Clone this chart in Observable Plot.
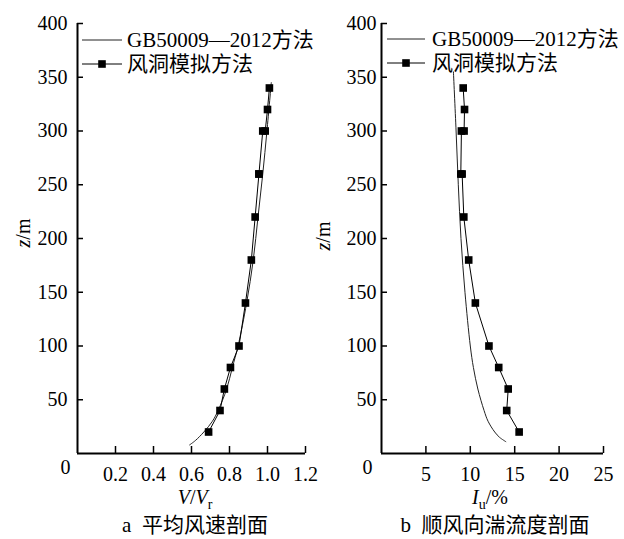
<!DOCTYPE html>
<html>
<head>
<meta charset="utf-8">
<script src="https://cdn.jsdelivr.net/npm/d3@7"></script>
<script src="https://cdn.jsdelivr.net/npm/@observablehq/plot@0.6"></script>
<style>
  html, body { margin: 0; padding: 0; background: #fff; }
  #wrap { position: relative; width: 624px; height: 539px; background: #fff; overflow: hidden;
    font-family: "Liberation Serif", "Noto Sans CJK SC", serif; color: #000; }
  .abs { position: absolute; white-space: nowrap; }
  .c { transform: translate(-50%, -50%); }
  .t { line-height: 16px; }
  .leg { position: absolute; height: 24px; line-height: 24px; font-size: 21px; white-space: nowrap; }
  .sub { font-size: 14px; position: relative; top: 5px; font-style: normal; }
</style>
</head>
<body>
<div id="wrap">
  <div id="pa" class="abs" style="left:0;top:0"></div>
  <div id="pb" class="abs" style="left:330px;top:0"></div>
</div>
<script>
// ---- data ----
const zTicks = [50, 100, 150, 200, 250, 300, 350, 400];
const vTicks = [0.2, 0.4, 0.6, 0.8, 1.0, 1.2];
const iTicks = [5, 10, 15, 20, 25];
const originLabel = ["0"];

// wind tunnel heights (m)
const wtZ = [20, 40, 60, 80, 100, 140, 180, 220, 260, 260, 300, 300, 320, 340];
// panel a: mean wind speed ratio V/Vr (wind tunnel)
const wtV = [0.69, 0.75, 0.773, 0.805, 0.85, 0.884, 0.915, 0.935, 0.955, 0.955, 0.975, 0.988, 1.0, 1.01];
// panel b: turbulence intensity Iu % (wind tunnel)
const wtI = [15.5, 14.1, 14.27, 13.2, 12.1, 10.57, 9.82, 9.27, 9.08, 8.93, 9.0, 9.3, 9.35, 9.2];

// GB50009-2012 curve, panel a
const gbZa = [8, 12, 20, 30, 40, 60, 80, 100, 140, 180, 220, 260, 300, 345];
const gbV  = [0.59, 0.62, 0.665, 0.71, 0.74, 0.785, 0.815, 0.845, 0.89, 0.925, 0.95, 0.975, 0.997, 1.02];
// GB50009-2012 curve, panel b
const gbZb = [11, 15, 20, 30, 40, 60, 80, 100, 150, 200, 250, 300, 355];
const gbI  = [14.0, 13.3, 12.75, 12.0, 11.55, 10.85, 10.35, 10.0, 9.4, 8.95, 8.65, 8.4, 8.1];

const legendLabels = ["GB50009\u20142012方法", "风洞模拟方法"];
const titlesA = { y: "z/m", caption: "a\u00a0\u00a0平均风速剖面" };
const titlesB = { y: "z/m", caption: "b\u00a0\u00a0顺风向湍流度剖面" };

const wtA = wtZ.map((z, i) => ({ z, v: wtV[i] }));
const wtB = wtZ.map((z, i) => ({ z, v: wtI[i] }));
const gbA = gbZa.map((z, i) => ({ z, v: gbV[i] }));
const gbB = gbZb.map((z, i) => ({ z, v: gbI[i] }));

const FONT = '"Liberation Serif", "Noto Sans CJK SC", serif';

function panel({ width, marginLeft, marginRight, xDomain, xTicks, xFormat, yPad, gb, wt, originDx }) {
  return Plot.plot({
    width, height: 480,
    marginLeft, marginRight, marginTop: 23, marginBottom: 27,
    x: { domain: xDomain },
    y: { domain: [0, 400] },
    style: { fontFamily: FONT, fontSize: "20px", background: "transparent", overflow: "visible", color: "#000" },
    marks: [
      Plot.axisY({ ticks: zTicks, tickSize: 0, tickPadding: yPad, label: null, fontSize: 20 }),
      Plot.axisY({ ticks: zTicks, tickSize: 6, dx: 6, fill: "none", strokeWidth: 1.5, label: null }),
      Plot.axisX({ ticks: xTicks, tickSize: 0, tickPadding: 13, label: null, fontSize: 20, tickFormat: xFormat }),
      Plot.axisX({ ticks: xTicks, tickSize: 7, dy: -7, fill: "none", strokeWidth: 1.5, label: null }),
      Plot.text(originLabel, { frameAnchor: "bottom-left", dx: originDx, dy: 20, fontSize: 20 }),
      Plot.ruleX([xDomain[0]], { strokeWidth: 2 }),
      Plot.ruleY([0], { strokeWidth: 2 }),
      Plot.line(gb, { x: "v", y: "z", curve: "catmull-rom", stroke: "#222", strokeWidth: 1 }),
      Plot.line(wt, { x: "v", y: "z", stroke: "#000", strokeWidth: 1 }),
      Plot.dot(wt, { x: "v", y: "z", symbol: "square", fill: "#000", stroke: "none", r: 4.3 })
    ]
  });
}

document.getElementById("pa").append(panel({
  width: 330, marginLeft: 77, marginRight: 25, xDomain: [0, 1.2], xTicks: vTicks,
  xFormat: d => d.toFixed(1), yPad: 10, gb: gbA, wt: wtA, originDx: -17
}));
document.getElementById("pb").append(panel({
  width: 294, marginLeft: 51, marginRight: 21, xDomain: [0, 25], xTicks: iTicks,
  xFormat: d => String(d), yPad: 5, gb: gbB, wt: wtB, originDx: -19
}));

const wrap = document.getElementById("wrap");
function addHTML(html) { wrap.insertAdjacentHTML("beforeend", html); }

// legends
function legend(x0, x1, tx, y1, y2) {
  const mid = (x0 + x1) / 2;
  addHTML(`<svg class="abs" style="left:0;top:0;overflow:visible" width="1" height="1">
    <line x1="${x0}" x2="${x1}" y1="${y1}" y2="${y1}" stroke="#222" stroke-width="1"/>
    <line x1="${x0}" x2="${x1}" y1="${y2}" y2="${y2}" stroke="#000" stroke-width="1"/>
    <rect x="${mid - 3.8}" y="${y2 - 3.8}" width="7.6" height="7.6" fill="#000"/>
  </svg>`);
  addHTML(`<div class="leg" style="left:${tx}px;top:${y1 - 12}px">${legendLabels[0]}</div>`);
  addHTML(`<div class="leg" style="left:${tx}px;top:${y2 - 12}px">${legendLabels[1]}</div>`);
}
legend(82, 122, 127, 40, 64);
legend(387, 425, 432, 39, 63);

// axis titles
addHTML(`<div class="abs t" style="left:23px;top:233px;font-size:20px;transform:translate(-50%,-50%) rotate(-90deg)"><i>z</i>/m</div>`);
addHTML(`<div class="abs t" style="left:323px;top:236px;font-size:20px;transform:translate(-50%,-50%) rotate(-90deg)"><i>z</i>/m</div>`);
addHTML(`<div class="abs c t" style="left:195px;top:498px;font-size:20px"><i>V</i>/<i>V</i><span class="sub">r</span></div>`);
addHTML(`<div class="abs c t" style="left:490px;top:498px;font-size:20px"><i>I</i><span class="sub">u</span>/%</div>`);
addHTML(`<div class="abs c t" style="left:195px;top:525px;font-size:21px">${titlesA.caption}</div>`);
addHTML(`<div class="abs c t" style="left:495px;top:525px;font-size:21px">${titlesB.caption}</div>`);
</script>
</body>
</html>
